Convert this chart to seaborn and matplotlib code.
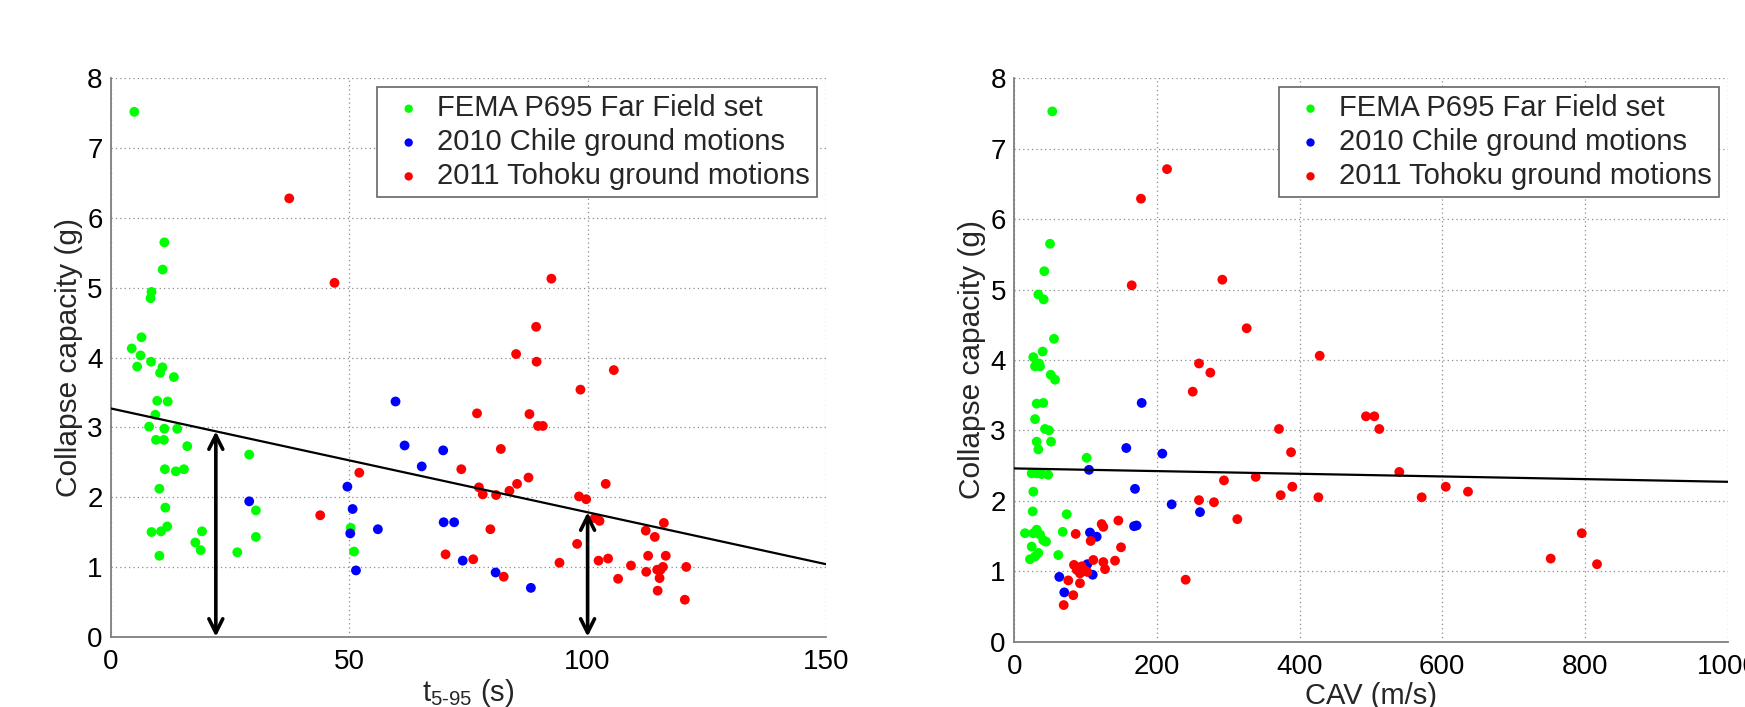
import numpy as np
import pandas as pd
import matplotlib
matplotlib.use("Agg")
import matplotlib.pyplot as plt
import seaborn as sns

# ---------------- data ----------------
series_names = ["FEMA P695 Far Field set", "2010 Chile ground motions", "2011 Tohoku ground motions"]
series_colors = ["#00FF00", "#0000FF", "#FF0000"]

# Left panel: t5-95 (s) vs collapse capacity (g)
fema_t = [4.9, 11.2, 10.85, 8.5, 8.3, 6.4, 4.35, 6.2, 5.5, 8.4, 10.8, 10.3, 13.2, 9.7, 11.9, 9.3, 8.0, 11.2,
          13.9, 9.45, 11.1, 16.0, 29.0, 11.3, 13.6, 15.3, 10.15, 11.4, 8.5, 10.5, 11.8, 19.1, 17.7, 18.8,
          10.15, 26.5, 30.4, 30.4, 50.3, 51.0]
fema_t_cap = [7.52, 5.65, 5.26, 4.94, 4.85, 4.29, 4.13, 4.03, 3.87, 3.94, 3.86, 3.78, 3.72, 3.38, 3.37, 3.18,
              3.01, 2.98, 2.98, 2.82, 2.82, 2.73, 2.61, 2.40, 2.37, 2.40, 2.12, 1.85, 1.50, 1.51, 1.58, 1.51,
              1.35, 1.24, 1.16, 1.21, 1.43, 1.81, 1.56, 1.22]
chile_t = [29.0, 59.7, 61.6, 69.7, 65.2, 49.6, 50.7, 50.2, 56.0, 51.4, 69.8, 72.0, 73.8, 80.7, 88.1]
chile_t_cap = [1.94, 3.37, 2.74, 2.67, 2.44, 2.15, 1.83, 1.48, 1.54, 0.95, 1.64, 1.64, 1.09, 0.92, 0.70]
tohoku_t = [37.4, 46.9, 92.4, 89.2, 85.0, 89.3, 105.5, 98.5, 76.8, 87.8, 89.6, 90.6, 81.8, 73.5, 52.1, 87.6,
            85.2, 103.8, 77.2, 78.0, 80.8, 83.6, 98.2, 99.7, 43.9, 102.5, 101.5, 79.6, 116.0, 112.2, 114.1,
            97.8, 70.2, 76.0, 94.1, 102.3, 104.3, 109.1, 112.7, 116.4, 112.3, 114.6, 115.8, 115.3, 120.7,
            115.1, 106.4, 82.4, 114.7, 120.4]
tohoku_t_cap = [6.28, 5.07, 5.13, 4.44, 4.05, 3.94, 3.82, 3.54, 3.20, 3.19, 3.02, 3.02, 2.69, 2.40, 2.35,
                2.28, 2.19, 2.19, 2.14, 2.04, 2.03, 2.09, 2.01, 1.97, 1.74, 1.66, 1.70, 1.54, 1.63, 1.52,
                1.43, 1.33, 1.18, 1.11, 1.06, 1.09, 1.12, 1.02, 1.16, 1.16, 0.93, 0.96, 1.00, 0.96, 1.00,
                0.84, 0.83, 0.86, 0.66, 0.53]

# Right panel: CAV (m/s) vs collapse capacity (g)
fema_cav = [53.4, 50.2, 42.2, 33.8, 41.3, 55.8, 39.9, 26.8, 34.8, 36.2, 29.2, 51.2, 57.2, 31.5, 40.8, 29.2,
            43.2, 48.8, 31.5, 51.6, 33.8, 101.6, 24.5, 31.5, 38.5, 47.5, 26.8, 25.9, 73.6, 15.1, 26.8, 31.5,
            36.2, 44.6, 40.8, 68.0, 24.5, 33.8, 22.1, 29.2, 61.8]
fema_cav_cap = [7.53, 5.65, 5.26, 4.93, 4.86, 4.30, 4.12, 4.04, 3.95, 3.91, 3.91, 3.79, 3.72, 3.38, 3.39,
                3.16, 3.02, 3.00, 2.84, 2.84, 2.73, 2.61, 2.39, 2.39, 2.38, 2.37, 2.13, 1.85, 1.81, 1.54,
                1.54, 1.59, 1.52, 1.42, 1.44, 1.56, 1.35, 1.26, 1.17, 1.21, 1.23]
chile_cav = [178.7, 157.1, 207.6, 104.8, 169.3, 220.7, 260.4, 168.0, 171.5, 106.2, 115.6, 102.5, 110.0, 63.2, 70.2]
chile_cav_cap = [3.39, 2.75, 2.67, 2.44, 2.17, 1.95, 1.84, 1.64, 1.65, 1.55, 1.49, 1.10, 0.95, 0.92, 0.70]
tohoku_cav = [214.2, 177.7, 164.7, 291.7, 325.8, 428.2, 259.0, 274.9, 250.2, 493.0, 504.7, 511.7, 371.1,
              388.0, 539.7, 338.5, 294.0, 389.8, 604.8, 373.5, 426.3, 571.1, 636.0, 259.0, 280.0, 312.7,
              146.0, 122.6, 124.9, 86.2, 107.2, 149.7, 110.9, 141.3, 124.9, 127.3, 83.8, 94.6, 87.6, 99.2,
              92.2, 102.5, 75.8, 92.2, 82.8, 69.4, 240.3, 795.4, 751.9, 816.8]
tohoku_cav_cap = [6.71, 6.29, 5.06, 5.14, 4.45, 4.06, 3.95, 3.82, 3.55, 3.20, 3.20, 3.02, 3.02, 2.69, 2.41,
                  2.34, 2.29, 2.20, 2.20, 2.08, 2.05, 2.05, 2.13, 2.01, 1.98, 1.74, 1.72, 1.67, 1.63, 1.53,
                  1.43, 1.34, 1.16, 1.15, 1.13, 1.03, 1.09, 1.07, 1.02, 1.01, 0.97, 0.99, 0.87, 0.83, 0.66,
                  0.52, 0.88, 1.54, 1.18, 1.10]

# Trend lines (intercept, slope)
t_trend = [3.27, -0.01487]
cav_trend = [2.46, -0.00019]
arrow_t = [22, 100]

x_ticks_left = [0, 50, 100, 150]
x_ticks_right = [0, 200, 400, 600, 800, 1000]
y_ticks = [0, 1, 2, 3, 4, 5, 6, 7, 8]

# ---------------- style ----------------
sns.set_theme(style="white")
plt.rcParams["font.family"] = ["Liberation Sans", "DejaVu Sans"]
plt.rcParams["mathtext.fontset"] = "custom"
plt.rcParams["mathtext.rm"] = "Liberation Sans"
plt.rcParams["mathtext.it"] = "Liberation Sans"

fig = plt.figure(figsize=(17.45, 7.07), dpi=100)
axL = fig.add_axes([0.0636, 0.0994, 0.4097, 0.7898])
axR = fig.add_axes([0.5812, 0.0924, 0.4089, 0.7969])

def make_df(xs, ys):
    frames = []
    for name, x, y in zip(series_names, xs, ys):
        frames.append(pd.DataFrame({"x": x, "y": y, "series": name}))
    return pd.concat(frames, ignore_index=True)

dfL = make_df([fema_t, chile_t, tohoku_t], [fema_t_cap, chile_t_cap, tohoku_t_cap])
dfR = make_df([fema_cav, chile_cav, tohoku_cav], [fema_cav_cap, chile_cav_cap, tohoku_cav_cap])

def style_axes(ax, xticks, xlim):
    ax.set_xlim(*xlim)
    ax.set_ylim(0, 8)
    ax.set_xticks(xticks)
    ax.set_yticks(y_ticks)
    ax.grid(True, color="#8c8c8c", linestyle=(0, (1, 2.5)), linewidth=0.9)
    ax.set_axisbelow(True)
    for s in ["top", "right"]:
        ax.spines[s].set_visible(False)
    for s in ["left", "bottom"]:
        ax.spines[s].set_color("#7f7f7f")
        ax.spines[s].set_linewidth(1.3)
    ax.tick_params(axis="both", direction="in", length=7, width=1.0, color="#7f7f7f",
                   labelsize=20, labelcolor="black")
    ax.tick_params(axis="x", pad=9)
    ax.tick_params(axis="y", pad=6)
    ax.set_ylabel("Collapse capacity (g)", fontsize=21.5, labelpad=3)

palette = dict(zip(series_names, series_colors))

for ax, df, xticks, xlim, trend in [(axL, dfL, x_ticks_left, (0, 150), t_trend),
                                     (axR, dfR, x_ticks_right, (0, 1000), cav_trend)]:
    for name in series_names:
        sub = df[df["series"] == name]
        sns.scatterplot(data=sub, x="x", y="y", color=palette[name], s=50, edgecolor="none",
                        linewidth=0, ax=ax, label=name, legend=False, zorder=3)
    xx = np.array(xlim, dtype=float)
    ax.plot(xx, trend[0] + trend[1] * xx, color="black", linewidth=1.6, zorder=4)
    style_axes(ax, xticks, xlim)
    leg = ax.legend(loc="upper right", fontsize=21, frameon=True, fancybox=False, framealpha=1,
                    edgecolor="#666666", borderaxespad=0.3, borderpad=0.25, labelspacing=0.2,
                    handletextpad=0.15, handlelength=1.65, markerscale=0.85)
    leg.get_frame().set_linewidth(1.2)

# Double-headed arrows from the axis to the trend line (left panel)
for xa in arrow_t:
    ya = t_trend[0] + t_trend[1] * xa
    axL.annotate("", xy=(xa, ya), xytext=(xa, 0), zorder=5,
                 arrowprops=dict(arrowstyle="<->,head_length=0.5,head_width=0.25", lw=2.6,
                                 color="black", shrinkA=0, shrinkB=0, mutation_scale=20))

axL.set_xlabel(r"$\mathregular{t_{5\text{-}95}}$ (s)", fontsize=21, labelpad=1)
axR.set_xlabel("CAV (m/s)", fontsize=21, labelpad=1)

fig.savefig("out.png", dpi=100, facecolor="white")
